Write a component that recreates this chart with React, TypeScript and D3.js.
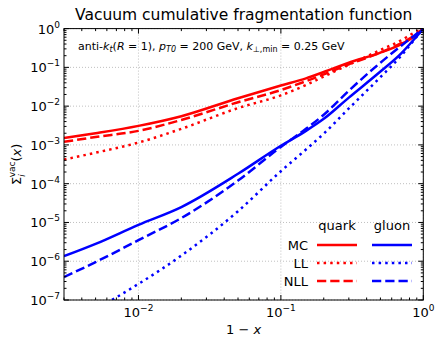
import React from "react";
import * as d3 from "d3";

// 1 - x sampling points
const oneMinusX = [0.003, 0.005, 0.01, 0.02, 0.05, 0.1, 0.15, 0.2, 0.3, 0.5, 0.7, 0.85, 1];

const quarkMC = [1.5e-3, 2.0e-3, 3.1e-3, 5.5e-3, 1.6e-2, 3.4e-2, 5.2e-2, 7.6e-2, 0.132, 0.24, 0.4, 0.6, 1];
const quarkLL = [4.2e-4, 6.3e-4, 1.15e-3, 2.6e-3, 8.9e-3, 1.9e-2, 3.5e-2, 5.8e-2, 0.117, 0.28, 0.5, 0.76, 1];
const quarkNLL = [1.2e-3, 1.6e-3, 2.3e-3, 4.4e-3, 1.26e-2, 2.6e-2, 4.4e-2, 6.6e-2, 0.12, 0.24, 0.42, 0.63, 1];
const gluonMC = [1.35e-6, 2.8e-6, 8.7e-6, 2.5e-5, 1.8e-4, 9.5e-4, 2.3e-3, 4.7e-3, 1.66e-2, 7.8e-2, 0.23, 0.5, 1];
const gluonLL = [2.8e-8, 6.0e-8, 2.6e-7, 1.4e-6, 1.95e-5, 2.1e-4, 7.6e-4, 1.95e-3, 8.7e-3, 5.6e-2, 0.2, 0.48, 1];
const gluonNLL = [3.9e-7, 9.5e-7, 3.5e-6, 1.3e-5, 1.2e-4, 8.9e-4, 2.6e-3, 6.0e-3, 2.5e-2, 0.132, 0.36, 0.63, 1];

const xTickExps = [-2, -1, 0];
const yTickExps = [0, -1, -2, -3, -4, -5, -6, -7];
const legendRows = ["MC", "LL", "NLL"];
const legendCols = ["quark", "gluon"];

const W = 445;
const H = 346;
const left = 64;
const right = 423.3;
const top = 28.6;
const bottom = 300;

const RED = "#ff0000";
const BLUE = "#0000ff";
const FONT = "DejaVu Sans, sans-serif";

const dashFor: Record<string, string | undefined> = {
  MC: undefined,
  LL: "2.5 4.1",
  NLL: "9.25 4",
};

export default function App() {
  const x = d3.scaleLog().domain([0.003, 1]).range([left, right]);
  const y = d3.scaleLog().domain([1e-7, 1]).range([bottom, top]);

  const line = d3
    .line<[number, number]>()
    .x((d) => x(d[0]))
    .y((d) => y(d[1]))
    .curve(d3.curveMonotoneX);

  const series = [
    { name: "MC", color: RED, data: quarkMC },
    { name: "LL", color: RED, data: quarkLL },
    { name: "NLL", color: RED, data: quarkNLL },
    { name: "MC", color: BLUE, data: gluonMC },
    { name: "LL", color: BLUE, data: gluonLL },
    { name: "NLL", color: BLUE, data: gluonNLL },
  ];

  // minor ticks
  const xMinor: number[] = [];
  for (let e = -3; e < 0; e++) for (let m = 2; m <= 9; m++) {
    const v = m * Math.pow(10, e);
    if (v >= 0.003 && v <= 1) xMinor.push(v);
  }
  const yMinor: number[] = [];
  for (let e = -7; e < 0; e++) for (let m = 2; m <= 9; m++) yMinor.push(m * Math.pow(10, e));

  const legX = 308;
  const legY0 = 245;
  const legDy = 18;
  const sampleX = [[317, 357], [372, 412]];

  return (
    <div style={{ position: "absolute", left: 0, top: 0 }}>
      <svg width={W} height={H} style={{ display: "block", background: "#fff" }} fontFamily={FONT}>
        <defs>
          <clipPath id="plot">
            <rect x={left} y={top} width={right - left} height={bottom - top} />
          </clipPath>
        </defs>

        {/* grid */}
        {xTickExps.map((e) => (
          <line key={"gx" + e} x1={x(Math.pow(10, e))} x2={x(Math.pow(10, e))} y1={top} y2={bottom}
            stroke="#b0b0b0" strokeWidth={0.8} strokeDasharray="1 2" />
        ))}
        {yTickExps.map((e) => (
          <line key={"gy" + e} x1={left} x2={right} y1={y(Math.pow(10, e))} y2={y(Math.pow(10, e))}
            stroke="#b0b0b0" strokeWidth={0.8} strokeDasharray="1 2" />
        ))}

        {/* curves */}
        <g clipPath="url(#plot)">
          {series.map((s, i) => (
            <path key={i} d={line(oneMinusX.map((v, j) => [v, s.data[j]] as [number, number])) || ""}
              fill="none" stroke={s.color} strokeWidth={2.5} strokeDasharray={dashFor[s.name]} />
          ))}
        </g>

        {/* ticks, inward on all sides */}
        {xTickExps.map((e) => {
          const px = x(Math.pow(10, e));
          return (
            <g key={"tx" + e}>
              <line x1={px} x2={px} y1={bottom} y2={bottom - 5} stroke="#000" />
              <line x1={px} x2={px} y1={top} y2={top + 5} stroke="#000" />
              <text x={px} y={bottom + 17} textAnchor="middle" fontSize={13}>
                10<tspan dy={-6} fontSize={9}>{e === 0 ? "0" : "\u2212" + -e}</tspan>
              </text>
            </g>
          );
        })}
        {xMinor.map((v, i) => (
          <g key={"mx" + i}>
            <line x1={x(v)} x2={x(v)} y1={bottom} y2={bottom - 2.5} stroke="#000" />
            <line x1={x(v)} x2={x(v)} y1={top} y2={top + 2.5} stroke="#000" />
          </g>
        ))}
        {yTickExps.map((e) => {
          const py = y(Math.pow(10, e));
          return (
            <g key={"ty" + e}>
              <line x1={left} x2={left + 5} y1={py} y2={py} stroke="#000" />
              <line x1={right} x2={right - 5} y1={py} y2={py} stroke="#000" />
              <text x={left - 4} y={py + 5} textAnchor="end" fontSize={13}>
                10<tspan dy={-6} fontSize={9}>{e === 0 ? "0" : "\u2212" + -e}</tspan>
              </text>
            </g>
          );
        })}
        {yMinor.map((v, i) => (
          <g key={"my" + i}>
            <line x1={left} x2={left + 2.5} y1={y(v)} y2={y(v)} stroke="#000" />
            <line x1={right} x2={right - 2.5} y1={y(v)} y2={y(v)} stroke="#000" />
          </g>
        ))}

        {/* frame */}
        <rect x={left} y={top} width={right - left} height={bottom - top} fill="none" stroke="#000" strokeWidth={1} />

        {/* title and labels */}
        <text x={(left + right) / 2} y={20} textAnchor="middle" fontSize={15.5}>
          Vacuum cumulative fragmentation function
        </text>
        <text x={78} y={50} fontSize={11}>
          anti-<tspan fontStyle="italic">k</tspan><tspan fontStyle="italic" fontSize={8} dy={2}>t</tspan>
          <tspan dy={-2}>(</tspan><tspan fontStyle="italic">R</tspan> = 1), <tspan fontStyle="italic">p</tspan>
          <tspan fontStyle="italic" fontSize={8} dy={2}>T0</tspan><tspan dy={-2}> = 200 GeV, </tspan>
          <tspan fontStyle="italic">k</tspan><tspan fontSize={8} dy={2}>⊥,min</tspan>
          <tspan dy={-2}> = 0.25 GeV</tspan>
        </text>
        <text x={(left + right) / 2} y={334} textAnchor="middle" fontSize={13}>
          1 − <tspan fontStyle="italic">x</tspan>
        </text>
        <text transform={`translate(21,${(top + bottom) / 2}) rotate(-90)`} textAnchor="middle" fontSize={13}>
          Σ<tspan fontStyle="italic" fontSize={9} dy={4}>i</tspan>
          <tspan fontSize={9} dx={-3} dy={-10}>vac</tspan>
          <tspan dy={6}>(</tspan><tspan fontStyle="italic">x</tspan>)
        </text>

        {/* legend */}
        {legendCols.map((c, ci) => (
          <text key={c} x={(sampleX[ci][0] + sampleX[ci][1]) / 2} y={legY0 - legDy - 2 + 5} textAnchor="middle" fontSize={13}>
            {c}
          </text>
        ))}
        {legendRows.map((r, ri) => (
          <g key={r}>
            <text x={legX} y={legY0 + ri * legDy + 5} textAnchor="end" fontSize={13}>{r}</text>
            {sampleX.map((sx, ci) => (
              <line key={ci} x1={sx[0]} x2={sx[1]} y1={legY0 + ri * legDy} y2={legY0 + ri * legDy}
                stroke={ci === 0 ? RED : BLUE} strokeWidth={2.5} strokeDasharray={dashFor[r]} />
            ))}
          </g>
        ))}
      </svg>
    </div>
  );
}
